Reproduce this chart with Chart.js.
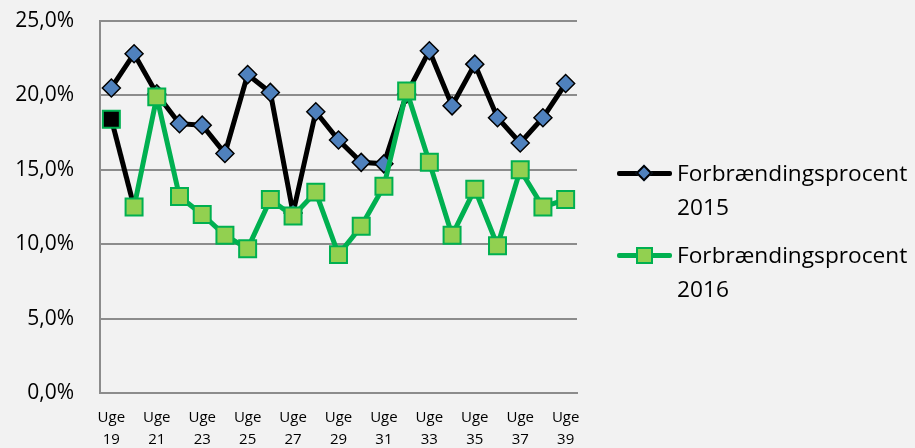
<!DOCTYPE html>
<html>
<head>
<meta charset="utf-8">
<script src="https://cdn.jsdelivr.net/npm/chart.js@4"></script>
<style>
  html, body { margin: 0; padding: 0; background: #f2f2f2; }
  #wrap { position: relative; width: 915px; height: 448px; }
  #graf { position: absolute; left: 0; top: 0; }
  .leg-linje { position: absolute; left: 617px; width: 55px; height: 5px; border-radius: 2px; }
  .leg-mark { position: absolute; box-sizing: border-box; }
  .leg-tekst { position: absolute; left: 677px; font-family: "Open Sans", sans-serif; font-size: 22.7px; line-height: 34px; color: #000; white-space: nowrap; }
</style>
</head>
<body>
<div id="wrap">
  <canvas id="graf" width="915" height="448"></canvas>

  <div class="leg-linje" style="top:171px; background:#000;"></div>
  <div class="leg-mark" style="left:638px; top:167px; width:12px; height:12px; background:#4f81bd; border:2px solid #000; transform:rotate(45deg);"></div>
  <div class="leg-tekst" style="top:156px;">Forbrændingsprocent<br>2015</div>

  <div class="leg-linje" style="top:253px; background:#00b050;"></div>
  <div class="leg-mark" style="left:636px; top:247px; width:17px; height:17px; background:#92d050; border:2px solid #00b050;"></div>
  <div class="leg-tekst" style="top:238px;">Forbrændingsprocent<br>2016</div>
</div>

<script>
// uger på x-aksen
const uger = ['Uge 19', 'Uge 20', 'Uge 21', 'Uge 22', 'Uge 23', 'Uge 24', 'Uge 25', 'Uge 26', 'Uge 27', 'Uge 28', 'Uge 29',
  'Uge 30', 'Uge 31', 'Uge 32', 'Uge 33', 'Uge 34', 'Uge 35', 'Uge 36', 'Uge 37', 'Uge 38', 'Uge 39'];

// forbrændingsprocent i %
const procent2015 = [20.5, 22.8, 20.1, 18.1, 18.0, 16.1, 21.4, 20.2, 12.1, 18.9, 17.0,
  15.5, 15.4, 20.1, 23.0, 19.3, 22.1, 18.5, 16.8, 18.5, 20.8];
const procent2016 = [18.4, 12.5, 19.9, 13.2, 12.0, 10.6, 9.7, 13.0, 11.9, 13.5, 9.3,
  11.2, 13.9, 20.3, 15.5, 10.6, 13.7, 9.9, 15.0, 12.5, 13.0];

const yTicks = [0, 5, 10, 15, 20, 25];

const navne = ['Forbrændingsprocent 2015', 'Forbrændingsprocent 2016'];

const gitterFarve = '#8c8c8c';
const skrift = '"Open Sans"';

// første punkt i 2016 er sort i originalen
const fyld2016 = procent2016.map((v, i) => i === 0 ? '#000000' : '#92d050');

const ctx = document.getElementById('graf').getContext('2d');

new Chart(ctx, {
  type: 'line',
  data: {
    labels: uger,
    datasets: [
      {
        label: navne[0],
        data: procent2015,
        borderColor: '#000000',
        borderWidth: 5,
        tension: 0,
        pointStyle: 'rectRot',
        pointRadius: 9,
        pointBackgroundColor: '#4f81bd',
        pointBorderColor: '#000000',
        pointBorderWidth: 1.5,
        order: 1
      },
      {
        label: navne[1],
        data: procent2016,
        borderColor: '#00b050',
        borderWidth: 5,
        tension: 0,
        segment: {
          borderColor: c => c.p0DataIndex === 0 ? '#000000' : undefined
        },
        pointStyle: 'rect',
        pointRadius: 12,
        pointBackgroundColor: fyld2016,
        pointBorderColor: '#00b050',
        pointBorderWidth: 2,
        order: 0
      }
    ]
  },
  options: {
    responsive: false,
    animation: false,
    events: [],
    layout: { padding: { top: 21, right: 338, bottom: 0, left: 0 } },
    plugins: {
      legend: { display: false },
      tooltip: { enabled: false }
    },
    scales: {
      x: {
        offset: true,
        grid: { display: false },
        border: { display: true, color: gitterFarve, width: 2 },
        afterFit: s => { s.height = 55; s.paddingLeft = 0; s.paddingRight = 0; },
        ticks: {
          autoSkip: false,
          maxRotation: 0,
          minRotation: 0,
          padding: 5,
          color: '#000',
          font: { family: skrift, size: 15, lineHeight: 1.5 },
          callback: function (v, i) {
            if (i % 2 !== 0) return null;
            return uger[i].split(' ');
          }
        }
      },
      y: {
        min: yTicks[0],
        max: yTicks[yTicks.length - 1],
        afterFit: s => { s.width = 100; s.paddingTop = 0; s.paddingBottom = 0; },
        afterBuildTicks: s => { s.ticks = yTicks.map(v => ({ value: v })); },
        grid: { color: gitterFarve, lineWidth: 2, drawTicks: false },
        border: { display: true, color: gitterFarve, width: 2 },
        ticks: {
          padding: 26,
          color: '#000',
          font: { family: skrift, size: 21 },
          callback: v => v.toFixed(1).replace('.', ',') + '%'
        }
      }
    }
  }
});
</script>
</body>
</html>
